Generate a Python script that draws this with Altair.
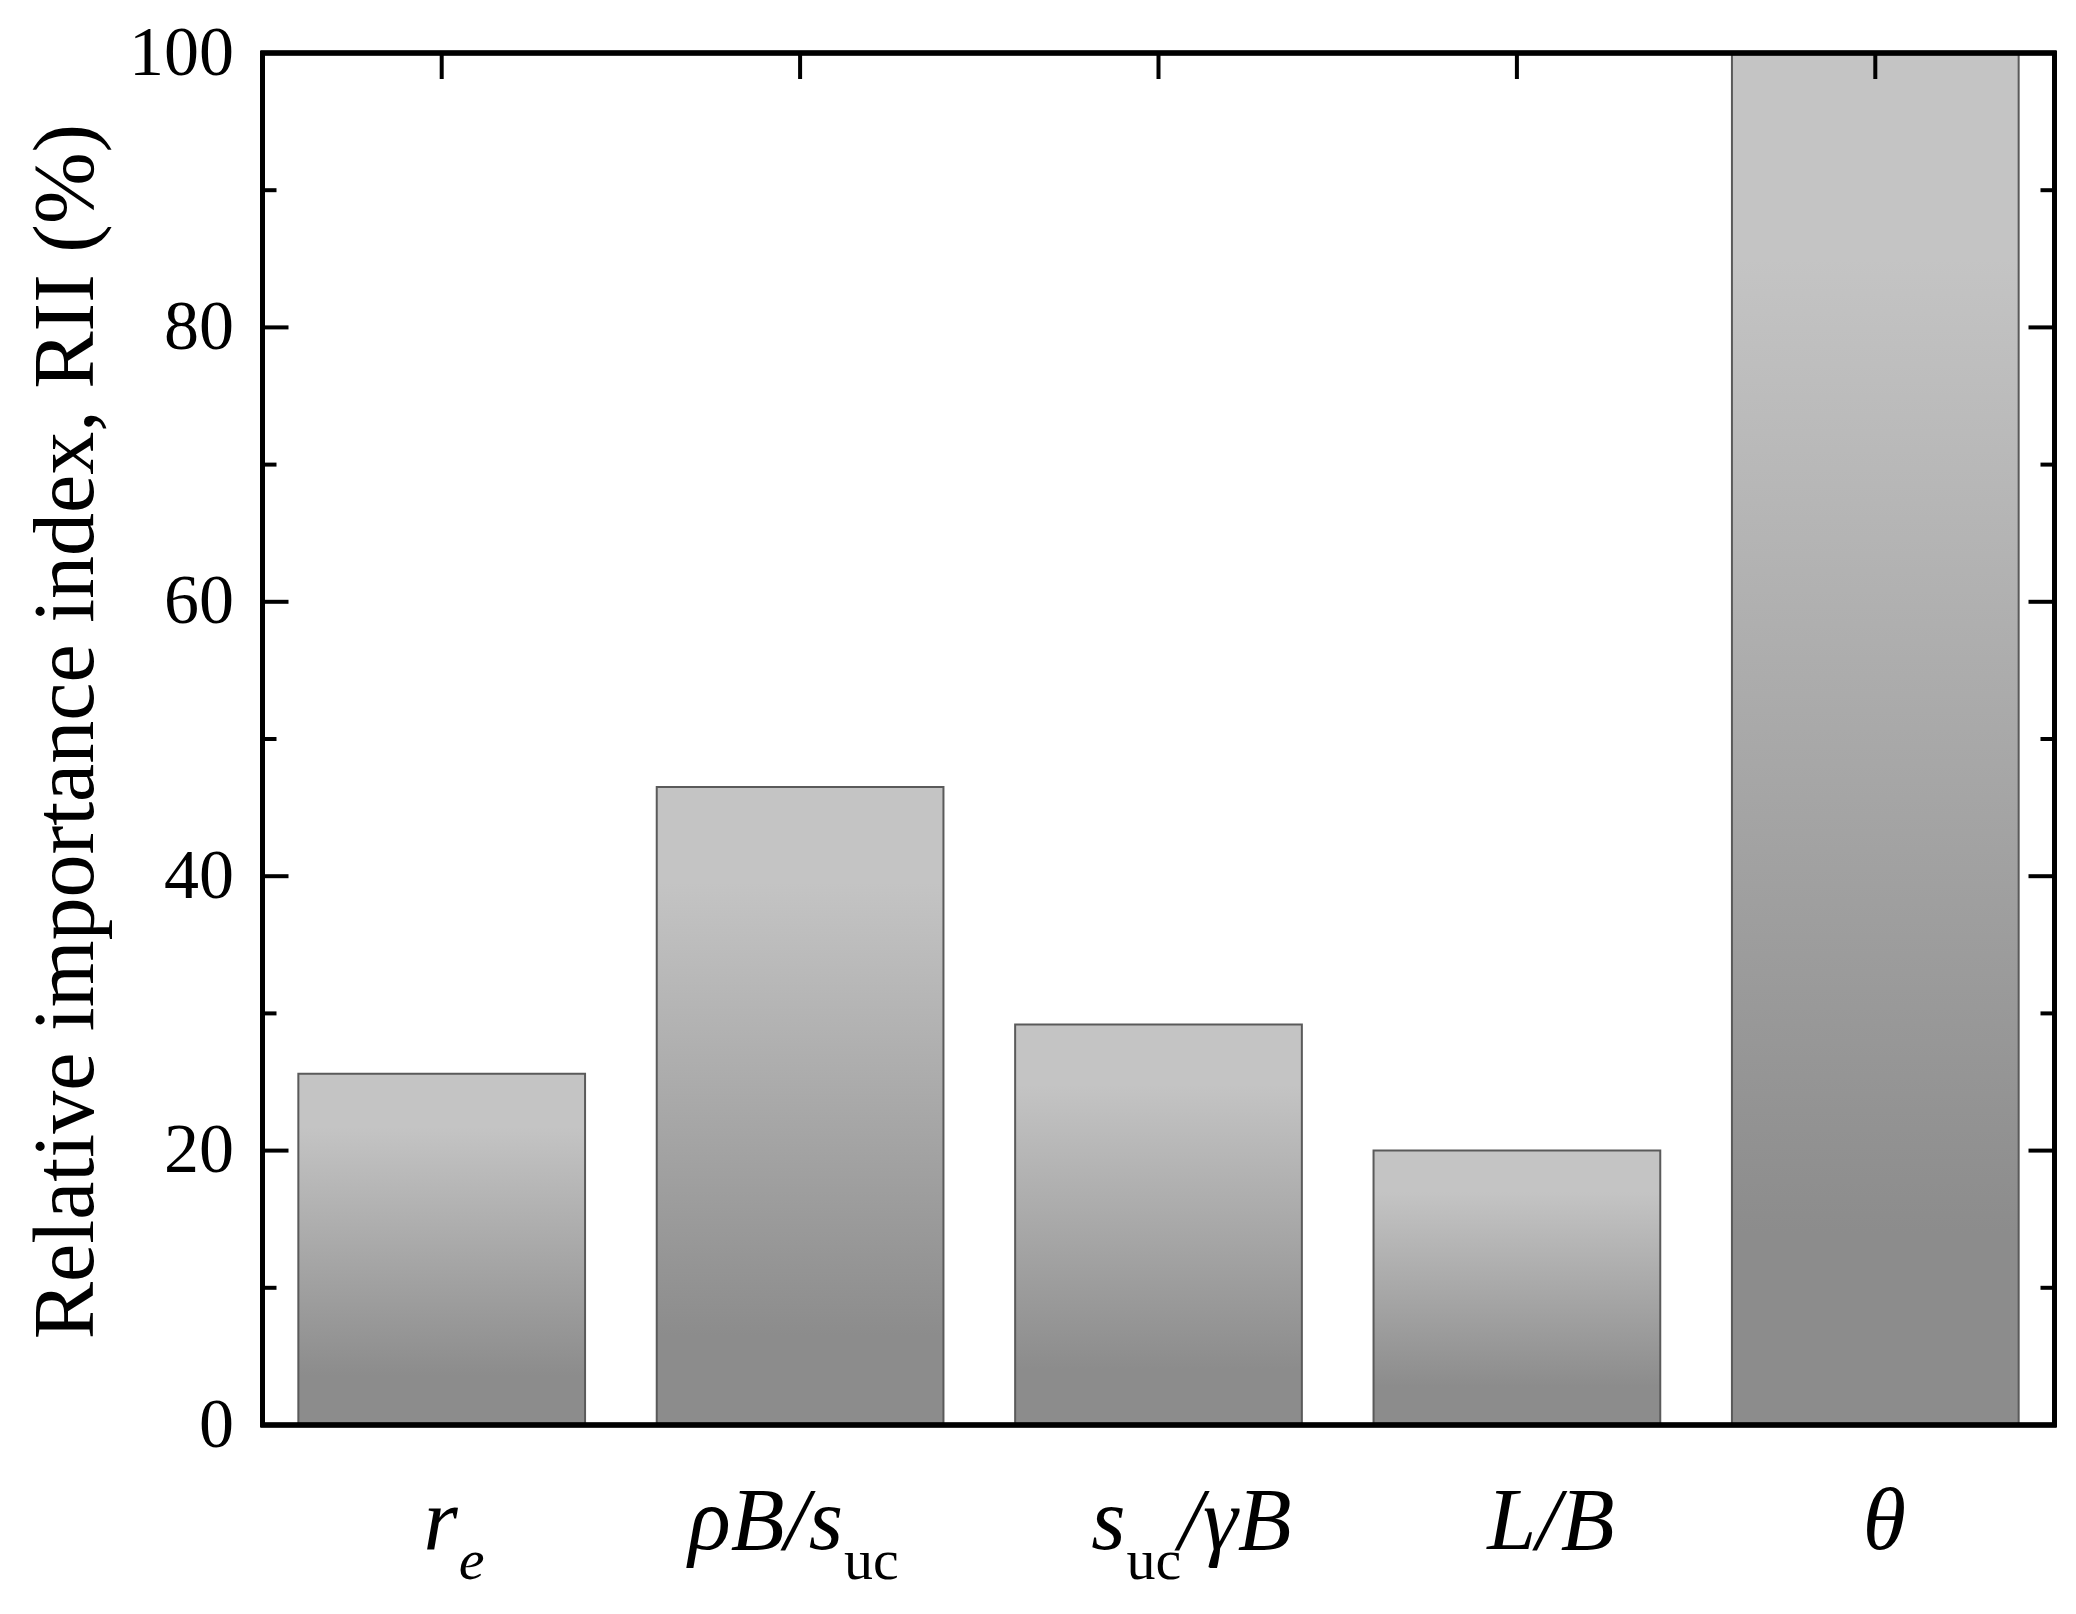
import altair as alt
import pandas as pd

# ---- data ----
categories = ["r_e", "ρB/s_uc", "s_uc/γB", "L/B", "θ"]
rii = [25.6, 46.5, 29.2, 20.0, 100.0]
major_ticks = [0, 20, 40, 60, 80, 100]
minor_ticks = [10, 30, 50, 70, 90]

df = pd.DataFrame({"cat": categories, "rii": rii})
df_major = pd.DataFrame({"v": major_ticks})
df_minor = pd.DataFrame({"v": minor_ticks})

W, H = 1792, 1372
FONT = "Liberation Serif"

xscale = alt.Scale(domain=categories, paddingInner=0.2, paddingOuter=0.1)
X = alt.X("cat:N", scale=xscale, sort=categories, axis=None)
yscale = alt.Scale(domain=[0, 100], nice=False)

gradient = {
    "gradient": "linear",
    "x1": 0, "y1": 0, "x2": 0, "y2": 1,
    "stops": [
        {"offset": 0.0, "color": "#c4c4c4"},
        {"offset": 0.15, "color": "#c4c4c4"},
        {"offset": 0.86, "color": "#8c8c8c"},
        {"offset": 1.0, "color": "#8c8c8c"},
    ],
}

bars = alt.Chart(df).mark_bar(fill=gradient, stroke="#5a5a5a", strokeWidth=2).encode(
    x=X,
    y=alt.Y(
        "rii:Q",
        scale=yscale,
        axis=alt.Axis(
            values=major_ticks,
            ticks=False,
            tickSize=0,
            domain=False,
            grid=False,
            labelFont=FONT,
            labelFontSize=70,
            labelColor="black",
            labelPadding=29,
            title="Relative importance index, RII (%)",
            titleFont=FONT,
            titleFontSize=86,
            titleFontWeight="normal",
            titleColor="black",
            titleAngle=270,
            titleBaseline="alphabetic",
            titleAlign="center",
            titleX=-170,
            titleY=678,
        ),
    ),
)

# frame drawn as rules so it sits above the bars
frame_left = alt.Chart(df_major).mark_rule(color="black", strokeWidth=4.5).encode(
    x=alt.value(0), y=alt.value(-2), y2=alt.value(H + 2))
frame_right = alt.Chart(df_major).mark_rule(color="black", strokeWidth=4.5).encode(
    x=alt.value(W), y=alt.value(-2), y2=alt.value(H + 2))
frame_top = alt.Chart(df_major).mark_rule(color="black", strokeWidth=4.5).encode(
    y=alt.value(0), x=alt.value(-2), x2=alt.value(W + 2))
frame_bottom = alt.Chart(df_major).mark_rule(color="black", strokeWidth=4.5).encode(
    y=alt.value(H), x=alt.value(-2), x2=alt.value(W + 2))

TICK = dict(color="black", strokeWidth=4)
left_major = alt.Chart(df_major).mark_rule(**TICK).encode(
    y=alt.Y("v:Q", scale=yscale), x=alt.value(0), x2=alt.value(26))
left_minor = alt.Chart(df_minor).mark_rule(**TICK).encode(
    y=alt.Y("v:Q", scale=yscale), x=alt.value(0), x2=alt.value(14))
right_major = alt.Chart(df_major).mark_rule(**TICK).encode(
    y=alt.Y("v:Q", scale=yscale), x=alt.value(W - 26), x2=alt.value(W))
right_minor = alt.Chart(df_minor).mark_rule(**TICK).encode(
    y=alt.Y("v:Q", scale=yscale), x=alt.value(W - 14), x2=alt.value(W))
top_ticks = alt.Chart(df).mark_rule(**TICK).encode(
    x=X, y=alt.value(0), y2=alt.value(26))

BASE_Y = H + 124
SUB_DY = 30
MAIN = dict(font=FONT, fontSize=88, fontStyle="italic", color="black", baseline="alphabetic")
SUB_ROMAN = dict(font=FONT, fontSize=58, color="black", baseline="alphabetic")
SUB_ITAL = dict(font=FONT, fontSize=58, fontStyle="italic", color="black", baseline="alphabetic")


def piece(cat, text, style, align, dx, dy=0):
    return alt.Chart(df).transform_filter(alt.datum.cat == cat).mark_text(
        align=align, dx=dx, dy=dy, **style
    ).encode(x=X, y=alt.value(BASE_Y), text=alt.value(text))


labels = [
    piece(categories[0], "r", MAIN, "right", 16),
    piece(categories[0], "e", SUB_ITAL, "left", 17, SUB_DY),
    piece(categories[1], "ρB/s", MAIN, "right", 43),
    piece(categories[1], "uc", SUB_ROMAN, "left", 44, SUB_DY),
    piece(categories[2], "s", MAIN, "right", -33),
    piece(categories[2], "uc", SUB_ROMAN, "left", -32, SUB_DY),
    piece(categories[2], "/γB", MAIN, "left", 20),
    piece(categories[3], "L/B", MAIN, "center", 34),
    piece(categories[4], "θ", MAIN, "center", 9),
]

chart = alt.layer(
    bars, left_major, left_minor, right_major, right_minor, top_ticks,
    frame_left, frame_right, frame_top, frame_bottom, *labels
).properties(
    width=W,
    height=H,
    padding={"left": 254.5, "top": 45, "right": 10, "bottom": 190},
    autosize=alt.AutoSizeParams(type="none"),
    background="white",
).configure_view(
    stroke=None
)

chart.save("out.html", embed_options={"renderer": "svg", "actions": False})
